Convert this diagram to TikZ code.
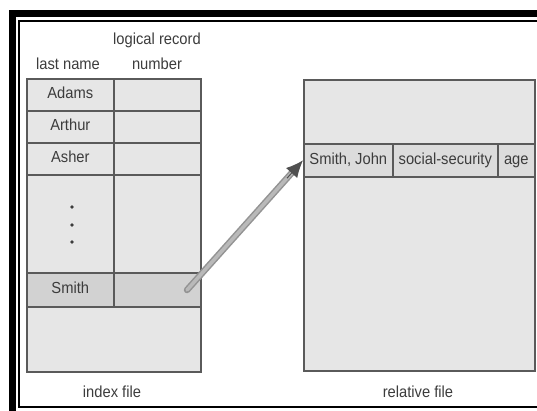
\documentclass[tikz,border=0pt]{standalone}
\usepackage{fontspec}
\setmainfont{Liberation Sans}[FakeStretch=0.92]
\usepackage{tikz}
\usetikzlibrary{arrows.meta,positioning,calc}

\definecolor{cellgray}{HTML}{E6E6E6}
\definecolor{smithgray}{HTML}{D2D2D2}
\definecolor{rowgray}{HTML}{DCDCDC}
\definecolor{linegray}{HTML}{5A5A5A}
\definecolor{textgray}{HTML}{3C3C3C}
\definecolor{arrowdark}{HTML}{505050}

\tikzset{
  cell/.style={draw=linegray, line width=1.6pt, fill=cellgray, inner sep=0pt,
    text height=11pt, text depth=3pt,
    anchor=north west, text=textgray, font=\fontsize{16}{18}\selectfont},
  caption/.style={text=textgray, inner sep=0pt, font=\fontsize{16}{18}\selectfont},
}

\begin{document}
\begin{tikzpicture}[x=1pt, y=-1pt]

    \useasboundingbox (0,0) rectangle (537,410);
    \clip (0,0) rectangle (537,410);

    % 1. Bingkai luar (tebal + tipis)
    \draw[line width=7pt] (12.5,13.5) rectangle (580,440);
    \draw[line width=1.6pt] (19,21) rectangle (560,407);

    % 2. Judul kolom indeks
    \node[caption] (hdrlogical) at (157,40) {logical record};
    \node[caption] (hdrnumber) at (157,64) {number};
    \node[caption] (hdrlast) at (68,64) {last name};

    % 3. Baris nama pada file indeks
    \foreach \name [count=\i from 0] in {Adams,Arthur,Asher} {
        \node[cell, minimum width=87pt, minimum height=32pt] (name\i) at (26,78+32*\i) {\name};
        \node[cell, minimum width=87pt, minimum height=32pt] (num\i) at (113,78+32*\i) {};
    }

    % 4. Bagian titik-titik
    \node[cell, minimum width=87pt, minimum height=98pt] (dotsname) at (26,174) {};
    \node[cell, minimum width=87pt, minimum height=98pt] (dotsnum) at (113,174) {};
    \foreach \y in {207,225,242} {
        \fill[textgray] (72,\y) circle (1.9pt);
    }

    % 5. Baris Smith
    \node[cell, fill=smithgray, minimum width=87pt, minimum height=34pt] (smith) at (26,272) {Smith};
    \node[cell, fill=smithgray, minimum width=87pt, minimum height=34pt] (smithnum) at (113,272) {};
    \node[cell, minimum width=174pt, minimum height=65pt] (indexrest) at (26,306) {};

    % 6. File relatif
    \node[cell, minimum width=231pt, minimum height=291pt] (relative) at (303,79) {};
    \node[cell, fill=rowgray, minimum width=89pt, minimum height=33pt] (smithjohn) at (303,143) {Smith, John};
    \node[cell, fill=rowgray, minimum width=105pt, minimum height=33pt] (social) at (392,143) {social-security};
    \node[cell, fill=rowgray, minimum width=37pt, minimum height=33pt] (age) at (497,143) {age};

    % 7. Panah dari indeks ke record
    \coordinate (arrowstart) at (187,290);
    \draw[line width=6.5pt, gray!85, line cap=round, shorten >=12pt] (arrowstart) -- (smithjohn.west);
    \draw[line width=3.5pt, gray!55, line cap=round, shorten >=14pt] (arrowstart) -- (smithjohn.west);
    \draw[-{Latex[length=17pt,width=15pt]}, line width=1pt, arrowdark, shorten <=150pt]
        (arrowstart) -- (smithjohn.west);

    % 8. Keterangan bawah
    \node[caption] (indexlabel) at (112,392) {index file};
    \node[caption] (relativelabel) at (418,392) {relative file};

\end{tikzpicture}
\end{document}
